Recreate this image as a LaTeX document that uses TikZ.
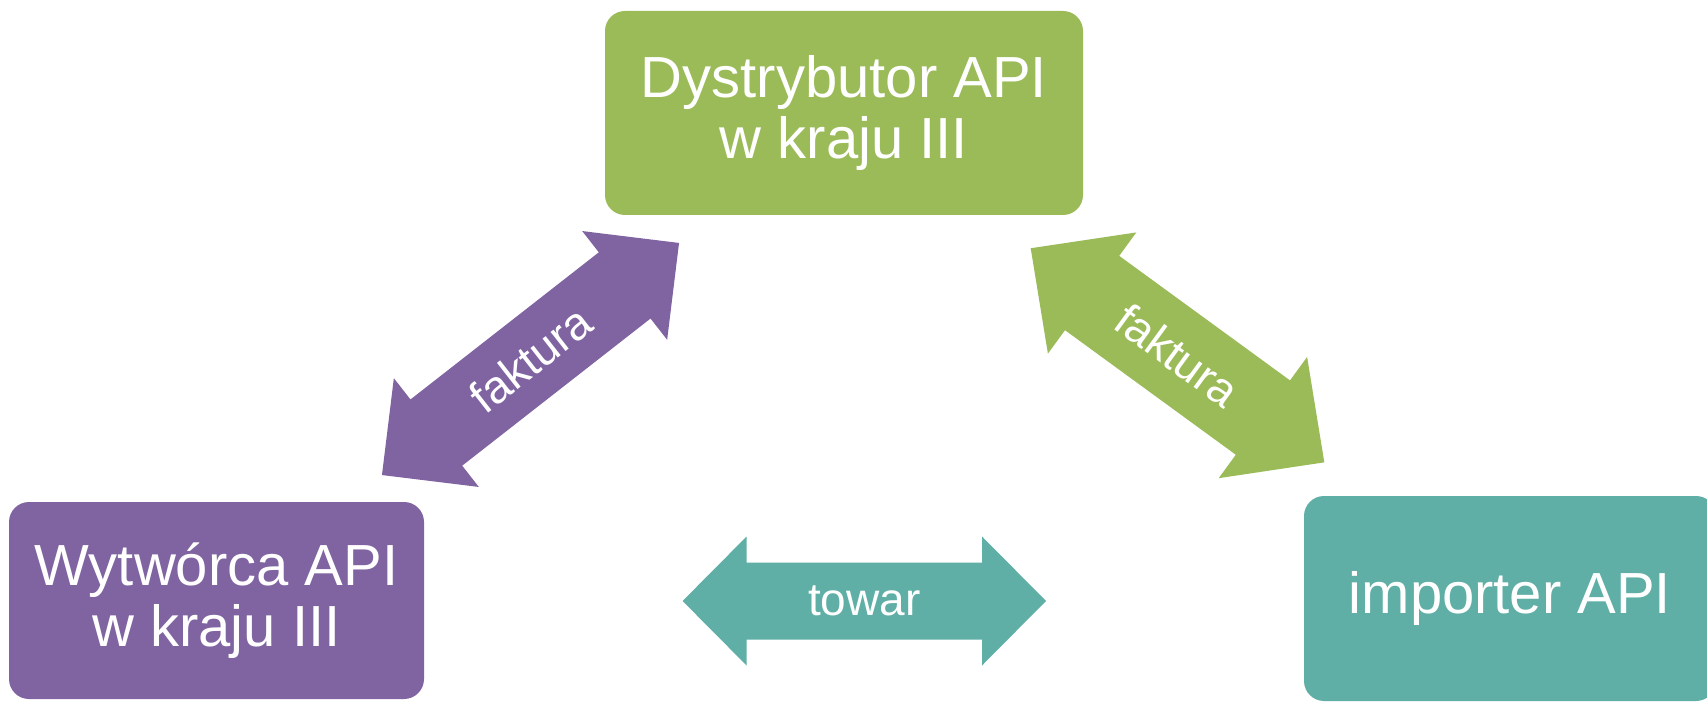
\documentclass[tikz,border=0pt]{standalone}
\usepackage{fontspec}
\setmainfont{Liberation Sans}
\definecolor{cpurple}{HTML}{8064A2}
\definecolor{cgreen}{HTML}{9BBB59}
\definecolor{cteal}{HTML}{5FAFA6}
\newcommand\dblarrowpath[4]{(-#1,0) -- (-#1+#2,#3) -- (-#1+#2,#4) -- (#1-#2,#4) -- (#1-#2,#3) -- (#1,0) -- (#1-#2,-#3) -- (#1-#2,-#4) -- (-#1+#2,-#4) -- (-#1+#2,-#3) -- cycle}
\begin{document}
\begin{tikzpicture}[x=1pt,y=1pt,
  box/.style={rectangle, rounded corners=20pt, text=white, align=center,
    font=\fontsize{58}{61}\selectfont, inner sep=0pt},
  lbl/.style={text=white, font=\fontsize{46}{50}\selectfont, inner sep=0pt}]
\useasboundingbox (0,0) rectangle (1707,702);
\clip (0,0) rectangle (1707,702);
\fill[white] (0,0) rectangle (1707,702);
% boxes
\node[box, fill=cgreen, minimum width=478pt, minimum height=204pt] (dist) at (844,589) {Dystrybutor API\\w kraju III};
\node[box, fill=cpurple, minimum width=415pt, minimum height=197pt] (wyt) at (216.5,101.5) {Wytwórca API\\w kraju III};
\node[box, fill=cteal, minimum width=412pt, minimum height=205pt] (imp) at (1510,103.5) {importer API};
% purple arrow
\begin{scope}[shift={(530.5,343)}, rotate=38]
  \fill[cpurple] \dblarrowpath{188.5}{69}{69}{42};
  \node[lbl, rotate=38] (f1) at (0,0) {faktura};
\end{scope}
% green arrow
\begin{scope}[shift={(1177.5,346.7)}, rotate=-36.1]
  \fill[cgreen] \dblarrowpath{181.7}{76}{75}{46};
  \node[lbl, rotate=-36.1] (f2) at (0,0) {faktura};
\end{scope}
% teal arrow
\begin{scope}[shift={(864.3,101)}]
  \fill[cteal] \dblarrowpath{181.7}{64}{64.5}{38.5};
  \node[lbl] (tw) at (0,0) {towar};
\end{scope}
\end{tikzpicture}
\end{document}
